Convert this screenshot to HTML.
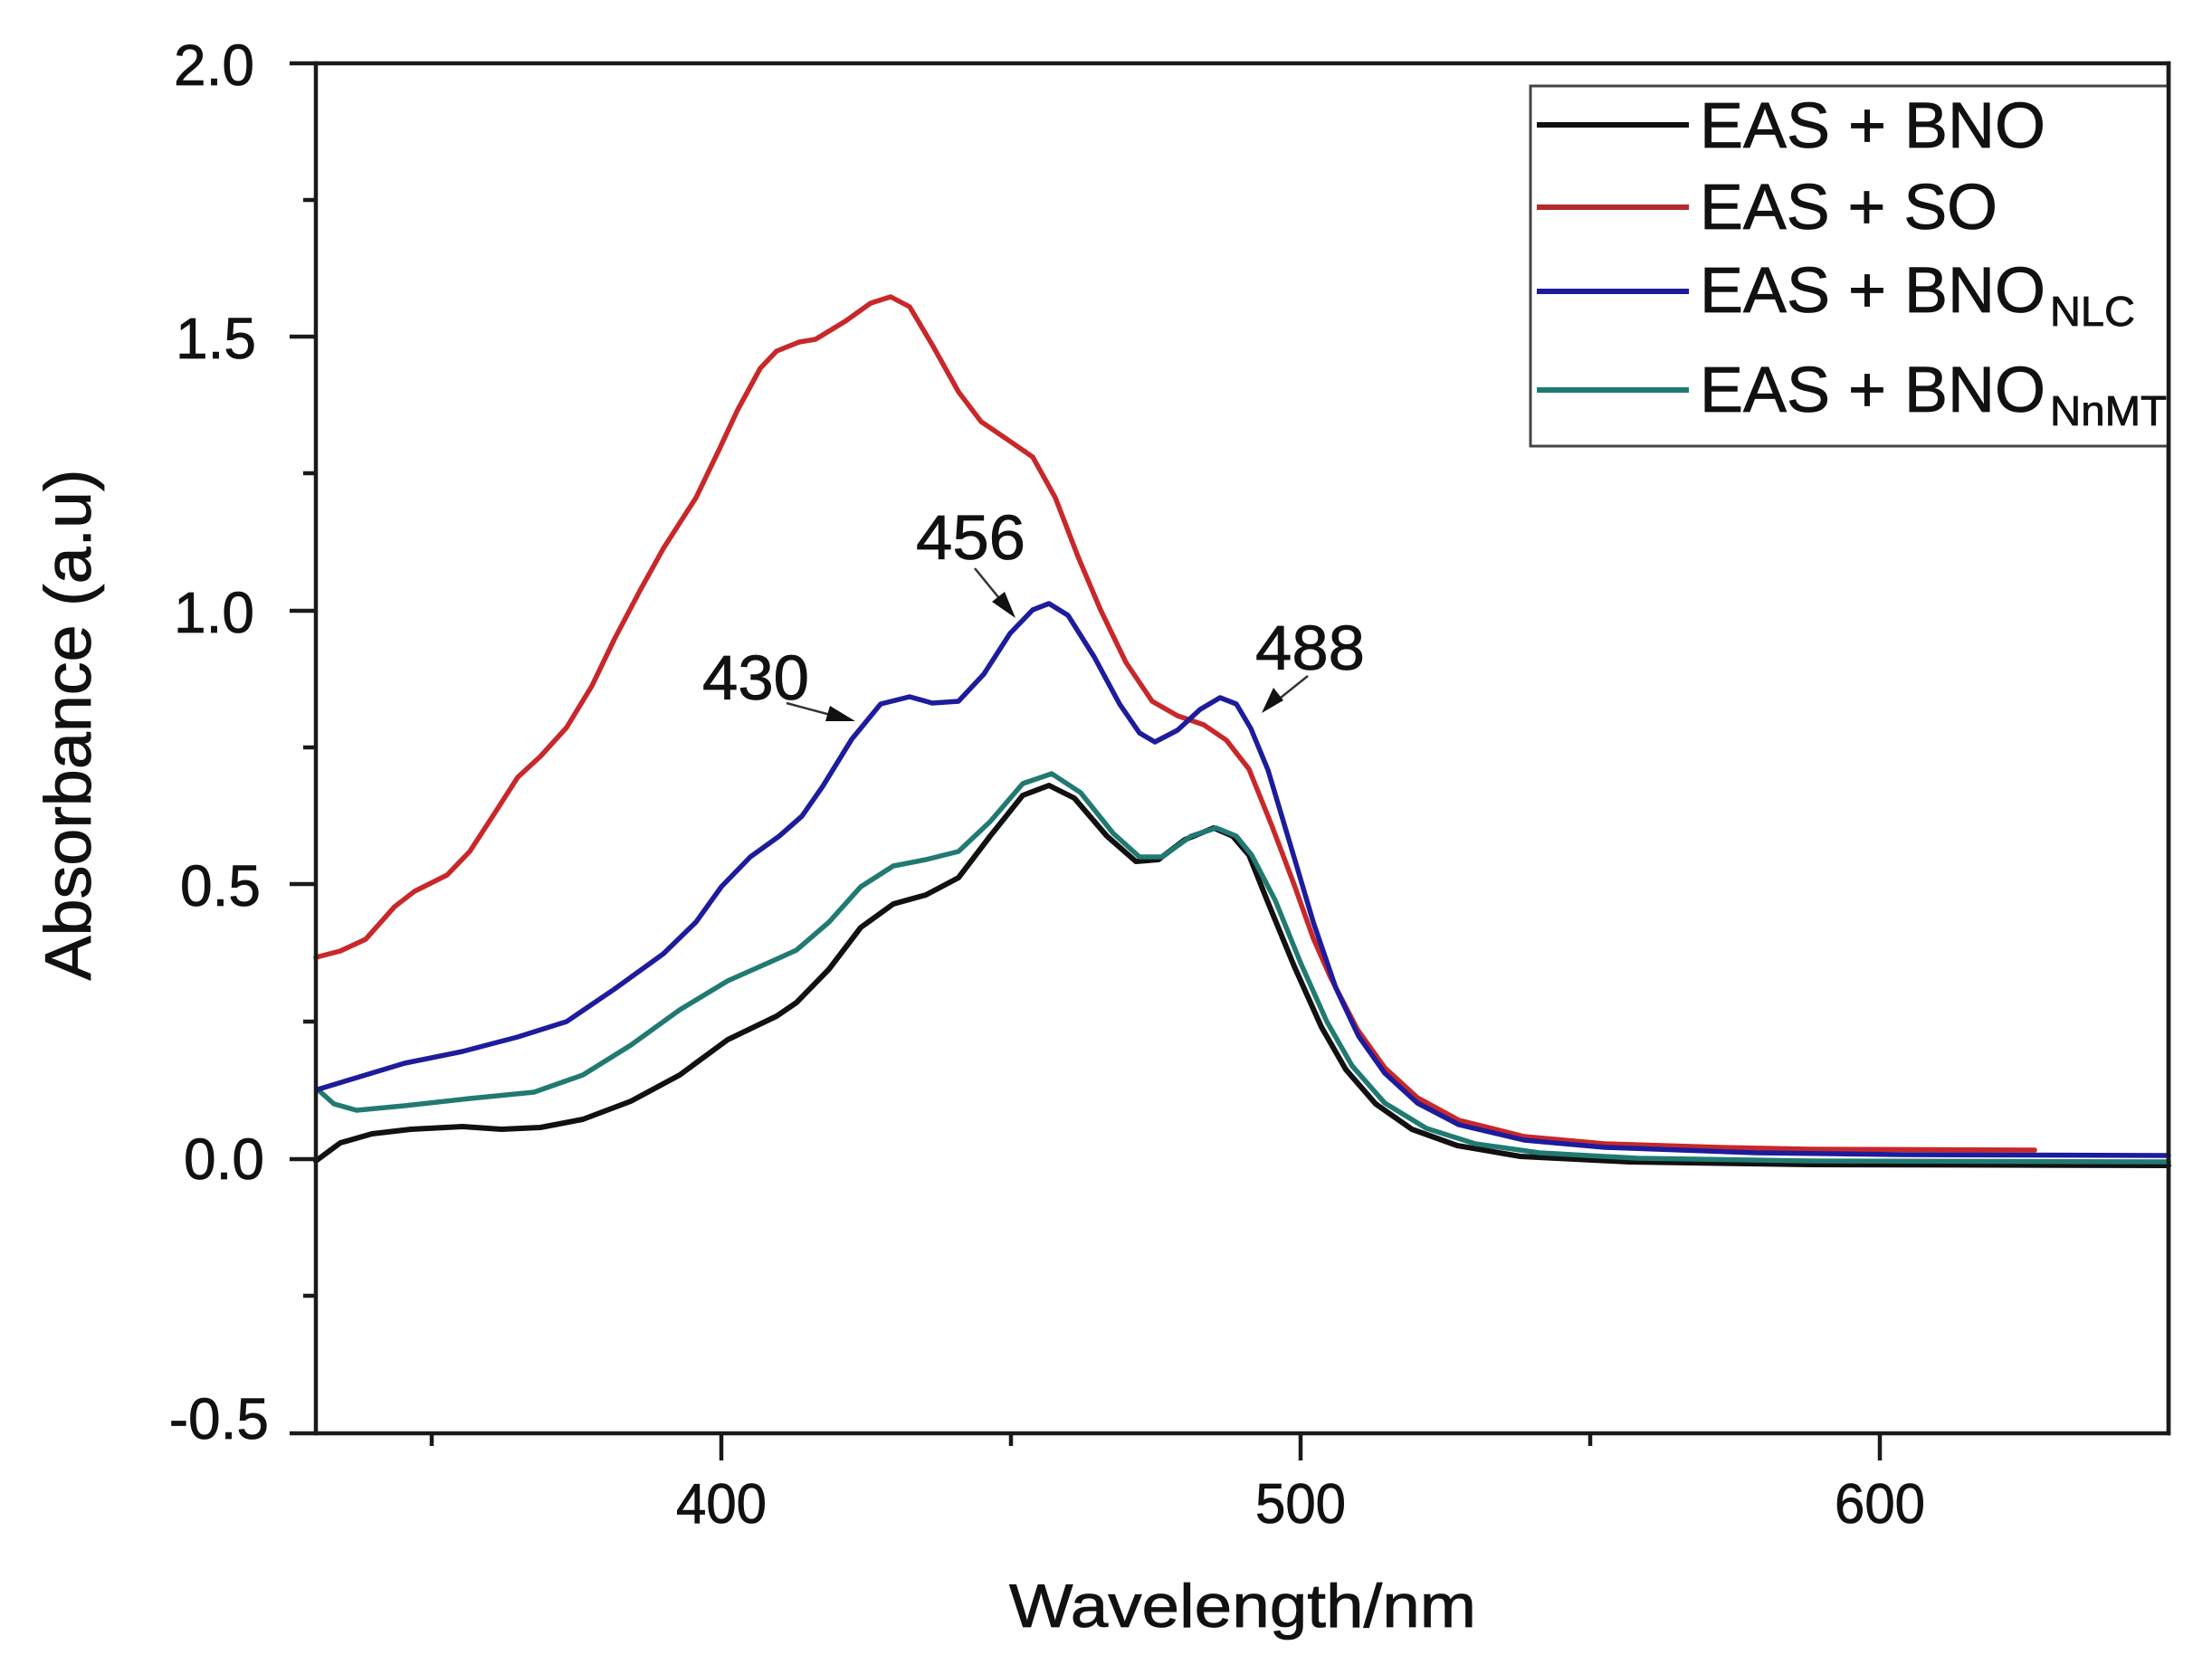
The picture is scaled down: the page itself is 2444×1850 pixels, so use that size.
<!DOCTYPE html>
<html>
<head>
<meta charset="utf-8">
<style>
  html,body{margin:0;padding:0;background:#fff;}
  svg{display:block;}
  text{font-family:"Liberation Sans",Arial,sans-serif;fill:#111;stroke:#111;stroke-width:0.8px;}
</style>
</head>
<body>
<svg width="2444" height="1850" viewBox="0 0 2444 1850" xmlns="http://www.w3.org/2000/svg">
  <rect x="0" y="0" width="2444" height="1850" fill="#fff"/>

  <!-- curves -->
  <g fill="none" stroke-linejoin="round" stroke-linecap="round" stroke-width="5.5">
    <!-- black: EAS + BNO -->
    <polyline stroke="#111" stroke-width="6" points="349,1283 376,1263 411,1253 454,1248 511,1245 554,1248 597,1246 644,1237 697,1217 751,1188 804,1149 858,1123 880,1108 916,1071 951,1025 987,999 1023,989 1059,970 1094,924 1130,879 1159,868 1187,882 1223,924 1255,952 1280,950 1309,928 1341,915 1362,924 1380,945 1400,995 1430,1068 1460,1135 1487,1182 1520,1220 1560,1248 1610,1266 1680,1278 1800,1284 2000,1287 2396,1288"/>
    <!-- teal: EAS + BNO NnMT -->
    <polyline stroke="#217a72" points="351,1204 369,1220 394,1227 447,1222 519,1214 590,1207 644,1188 697,1155 751,1116 804,1084 858,1060 880,1050 916,1019 951,980 987,957 1023,950 1059,941 1094,908 1130,866 1162,855 1194,876 1230,921 1259,947 1284,947 1316,924 1344,915 1366,924 1383,945 1409,995 1437,1064 1466,1129 1494,1178 1530,1219 1576,1247 1630,1264 1701,1274 1809,1280 2000,1283 2396,1284"/>
    <!-- red: EAS + SO -->
    <polyline stroke="#c8282a" points="349,1058 376,1051 404,1038 436,1002 458,985 494,967 519,941 547,898 572,859 597,836 626,804 654,758 679,706 708,651 733,606 769,550 794,498 815,453 840,407 858,388 883,378 901,375 934,355 962,335 984,328 1005,339 1030,381 1059,433 1084,466 1112,485 1141,505 1166,550 1191,615 1216,674 1244,732 1273,775 1301,791 1330,801 1355,818 1380,850 1405,912 1416,941 1430,978 1451,1037 1470,1080 1500,1138 1530,1180 1566,1213 1612,1238 1684,1256 1773,1264 1900,1268 2000,1270 2248,1271"/>
    <!-- blue: EAS + BNO NLC -->
    <polyline stroke="#1c1c9c" points="351,1204 394,1191 447,1175 511,1162 572,1146 626,1129 679,1093 733,1054 769,1019 797,980 829,947 861,924 886,902 909,869 941,817 973,778 1005,770 1030,777 1059,775 1087,745 1116,700 1141,674 1159,667 1180,680 1209,726 1237,778 1259,810 1276,820 1301,807 1326,784 1348,771 1366,778 1382,805 1401,851 1430,948 1451,1019 1476,1092 1501,1145 1530,1186 1566,1219 1612,1243 1684,1260 1773,1268 1940,1274 2100,1276 2396,1277"/>
  </g>

  <!-- axes frame -->
  <g stroke="#1a1a1a" stroke-width="4.5" fill="none" stroke-linecap="square">
    <line x1="349" y1="70" x2="2396" y2="70"/>
    <line x1="2396" y1="70" x2="2396" y2="1584"/>
    <line x1="349" y1="70" x2="349" y2="1584"/>
    <line x1="349" y1="1584" x2="2396" y2="1584"/>
  </g>
  <!-- y ticks -->
  <g stroke="#1a1a1a" stroke-width="4.5">
    <line x1="320" y1="70" x2="349" y2="70"/>
    <line x1="320" y1="372" x2="349" y2="372"/>
    <line x1="320" y1="675" x2="349" y2="675"/>
    <line x1="320" y1="977" x2="349" y2="977"/>
    <line x1="320" y1="1281" x2="349" y2="1281"/>
    <line x1="320" y1="1584" x2="349" y2="1584"/>
    <line x1="335" y1="221" x2="349" y2="221"/>
    <line x1="335" y1="523" x2="349" y2="523"/>
    <line x1="335" y1="826" x2="349" y2="826"/>
    <line x1="335" y1="1129" x2="349" y2="1129"/>
    <line x1="335" y1="1432" x2="349" y2="1432"/>
  </g>
  <!-- x ticks -->
  <g stroke="#1a1a1a" stroke-width="4.5">
    <line x1="797" y1="1584" x2="797" y2="1614"/>
    <line x1="1437" y1="1584" x2="1437" y2="1614"/>
    <line x1="2077" y1="1584" x2="2077" y2="1614"/>
    <line x1="477" y1="1584" x2="477" y2="1598"/>
    <line x1="1117" y1="1584" x2="1117" y2="1598"/>
    <line x1="1757" y1="1584" x2="1757" y2="1598"/>
  </g>

  <!-- y tick labels -->
  <g font-size="64" text-anchor="end">
    <text x="281" y="94">2.0</text>
    <text x="283" y="396">1.5</text>
    <text x="281" y="699">1.0</text>
    <text x="288" y="1001">0.5</text>
    <text x="292" y="1303">0.0</text>
    <text x="297" y="1590">-0.5</text>
  </g>
  <!-- x tick labels -->
  <g font-size="62">
    <text x="747" y="1683" textLength="100" lengthAdjust="spacingAndGlyphs">400</text>
    <text x="1387" y="1683" textLength="100" lengthAdjust="spacingAndGlyphs">500</text>
    <text x="2027" y="1683" textLength="100" lengthAdjust="spacingAndGlyphs">600</text>
  </g>

  <!-- axis titles -->
  <text x="1115" y="1798" font-size="68" textLength="516" lengthAdjust="spacingAndGlyphs">Wavelength/nm</text>
  <text transform="translate(100,801) rotate(-90)" x="0" y="0" font-size="72" text-anchor="middle" textLength="565" lengthAdjust="spacingAndGlyphs">Absorbance (a.u)</text>

  <!-- annotations -->
  <g font-size="70">
    <text x="776" y="773" textLength="118" lengthAdjust="spacingAndGlyphs">430</text>
    <text x="1012" y="618" textLength="121" lengthAdjust="spacingAndGlyphs">456</text>
    <text x="1387" y="740" textLength="121" lengthAdjust="spacingAndGlyphs">488</text>
  </g>
  <g stroke="#333" stroke-width="2.5">
    <line x1="869" y1="777" x2="925" y2="792"/>
    <line x1="1077" y1="628" x2="1108" y2="666"/>
    <line x1="1445" y1="747" x2="1410" y2="775"/>
  </g>
  <g fill="#111">
    <polygon points="945,797 912,797 917,780"/>
    <polygon points="1122,683 1096,665 1110,654"/>
    <polygon points="1394,788 1407,760 1418,774"/>
  </g>

  <!-- legend -->
  <rect x="1691" y="95" width="705" height="398" fill="#fff" stroke="#444" stroke-width="3"/>
  <line x1="2396" y1="70" x2="2396" y2="1584" stroke="#1a1a1a" stroke-width="4.5"/>
  <g stroke-width="6">
    <line x1="1698" y1="138" x2="1866" y2="138" stroke="#111"/>
    <line x1="1698" y1="229" x2="1866" y2="229" stroke="#b52a2e"/>
    <line x1="1698" y1="322" x2="1866" y2="322" stroke="#1c1c9c"/>
    <line x1="1698" y1="431" x2="1866" y2="431" stroke="#217a72"/>
  </g>
  <g font-size="71">
    <text x="1878" y="163" textLength="382" lengthAdjust="spacingAndGlyphs">EAS + BNO</text>
    <text x="1878" y="253" textLength="329" lengthAdjust="spacingAndGlyphs">EAS + SO</text>
    <text x="1878" y="345" textLength="382" lengthAdjust="spacingAndGlyphs">EAS + BNO</text>
    <text x="1878" y="455" textLength="382" lengthAdjust="spacingAndGlyphs">EAS + BNO</text>
  </g>
  <g font-size="46">
    <text x="2265" y="360" textLength="94" lengthAdjust="spacingAndGlyphs">NLC</text>
    <text x="2265" y="470" textLength="129" lengthAdjust="spacingAndGlyphs">NnMT</text>
  </g>
</svg>
</body>
</html>
